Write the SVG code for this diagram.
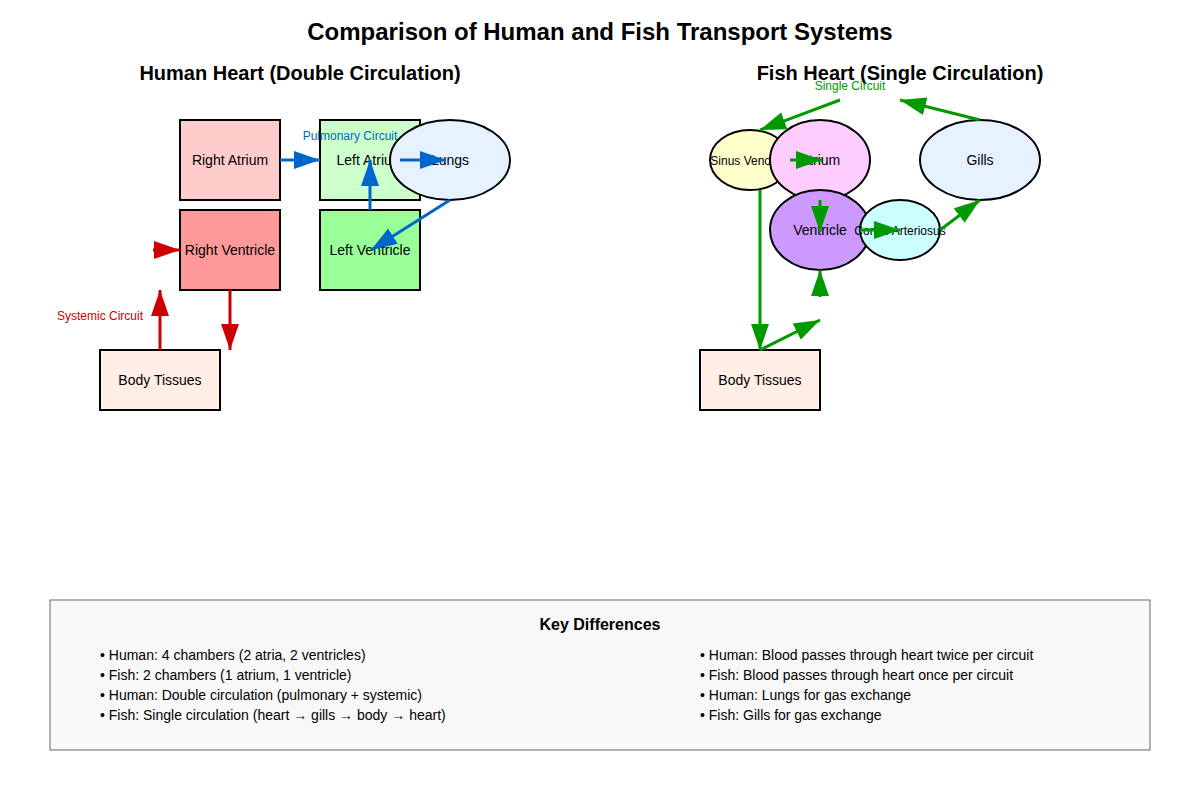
<svg xmlns="http://www.w3.org/2000/svg" width="1200" height="800" viewBox="0 0 1200 800">
<style>
text{font-family:"Liberation Sans",Arial,sans-serif;fill:#000}
.n{stroke:#000;stroke-width:2}
.t{font-size:14px;text-anchor:middle}
.s{font-size:12px;text-anchor:middle}
.b{stroke:#0066cc;stroke-width:3;fill:none;marker-end:url(#mb)}
.r{stroke:#cc0000;stroke-width:3;fill:none;marker-end:url(#mr)}
.g{stroke:#009900;stroke-width:3;fill:none;marker-end:url(#mg)}
.k{font-size:14px}
</style>
<defs>
<marker id="mb" markerUnits="userSpaceOnUse" markerWidth="26" markerHeight="18" refX="26" refY="9" orient="auto"><path d="M0,0L26,9L0,18z" fill="#0066cc"/></marker>
<marker id="mr" markerUnits="userSpaceOnUse" markerWidth="26" markerHeight="18" refX="26" refY="9" orient="auto"><path d="M0,0L26,9L0,18z" fill="#cc0000"/></marker>
<marker id="mg" markerUnits="userSpaceOnUse" markerWidth="26" markerHeight="18" refX="26" refY="9" orient="auto"><path d="M0,0L26,9L0,18z" fill="#009900"/></marker>
</defs>
<rect width="1200" height="800" fill="#fff"/>
<text x="600" y="40" style="font-size:24px;font-weight:bold;text-anchor:middle">Comparison of Human and Fish Transport Systems</text>
<text x="300" y="80" style="font-size:20px;font-weight:bold;text-anchor:middle">Human Heart (Double Circulation)</text>
<text x="900" y="80" style="font-size:20px;font-weight:bold;text-anchor:middle">Fish Heart (Single Circulation)</text>

<g id="ra"><rect class="n" x="180" y="120" width="100" height="80" fill="#ffcccc"/><text class="t" x="230" y="165">Right Atrium</text></g>
<g id="la"><rect class="n" x="320" y="120" width="100" height="80" fill="#ccffcc"/><text class="t" x="370" y="165">Left Atrium</text></g>
<g id="rv"><rect class="n" x="180" y="210" width="100" height="80" fill="#ff9999"/><text class="t" x="230" y="255">Right Ventricle</text></g>
<g id="lv"><rect class="n" x="320" y="210" width="100" height="80" fill="#99ff99"/><text class="t" x="370" y="255">Left Ventricle</text></g>
<g id="lungs"><ellipse class="n" cx="450" cy="160" rx="60" ry="40" fill="#e6f2ff"/><text class="t" x="450" y="165">Lungs</text></g>
<g id="hbody"><rect class="n" x="100" y="350" width="120" height="60" fill="#ffeee6"/><text class="t" x="160" y="385">Body Tissues</text></g>

<g id="sv"><ellipse class="n" cx="750" cy="160" rx="40" ry="30" fill="#ffffcc"/><text class="s" x="750" y="165">Sinus Venosus</text></g>
<g id="fa"><ellipse class="n" cx="820" cy="160" rx="50" ry="40" fill="#ffccff"/><text class="t" x="820" y="165">Atrium</text></g>
<g id="gills"><ellipse class="n" cx="980" cy="160" rx="60" ry="40" fill="#e6f2ff"/><text class="t" x="980" y="165">Gills</text></g>
<g id="fv"><ellipse class="n" cx="820" cy="230" rx="50" ry="40" fill="#cc99ff"/><text class="t" x="820" y="235">Ventricle</text></g>
<g id="ca"><ellipse class="n" cx="900" cy="230" rx="40" ry="30" fill="#ccffff"/><text class="s" x="900" y="235">Conus Arteriosus</text></g>
<g id="fbody"><rect class="n" x="700" y="350" width="120" height="60" fill="#ffeee6"/><text class="t" x="760" y="385">Body Tissues</text></g>

<g id="connectors">
<path class="b" d="M280,160H320"/>
<path class="b" d="M400,160H446"/>
<path class="b" d="M450,200L371,250"/>
<path class="b" d="M370,210V160"/>
<path class="r" d="M160,350V290"/>
<path class="r" d="M230,290V350"/>
<path class="r" d="M153,250H180"/>
<path class="g" d="M840,100L760,130"/>
<path class="g" d="M980,120L900,100"/>
<path class="g" d="M790,160H822"/>
<path class="g" d="M820,200V232"/>
<path class="g" d="M860,230H900"/>
<path class="g" d="M940,230L980,200"/>
<path class="g" d="M760,190V350"/>
<path class="g" d="M760,350L820,320"/>
<path class="g" d="M820,297V270"/>
</g>
<text x="350" y="140" style="font-size:12px;fill:#0066cc;text-anchor:middle">Pulmonary Circuit</text>
<text x="100" y="320" style="font-size:12px;fill:#cc0000;text-anchor:middle">Systemic Circuit</text>
<text x="850" y="90" style="font-size:12px;fill:#009900;text-anchor:middle">Single Circuit</text>

<g id="key">
<rect x="50" y="600" width="1100" height="150" fill="#f8f8f8" stroke="#666" stroke-width="1"/>
<text x="600" y="630" style="font-size:16px;font-weight:bold;text-anchor:middle">Key Differences</text>
<text class="k" x="100" y="660">• Human: 4 chambers (2 atria, 2 ventricles)</text>
<text class="k" x="100" y="680">• Fish: 2 chambers (1 atrium, 1 ventricle)</text>
<text class="k" x="100" y="700">• Human: Double circulation (pulmonary + systemic)</text>
<text class="k" x="100" y="720">• Fish: Single circulation (heart → gills → body → heart)</text>
<text class="k" x="700" y="660">• Human: Blood passes through heart twice per circuit</text>
<text class="k" x="700" y="680">• Fish: Blood passes through heart once per circuit</text>
<text class="k" x="700" y="700">• Human: Lungs for gas exchange</text>
<text class="k" x="700" y="720">• Fish: Gills for gas exchange</text>
</g>
</svg>
